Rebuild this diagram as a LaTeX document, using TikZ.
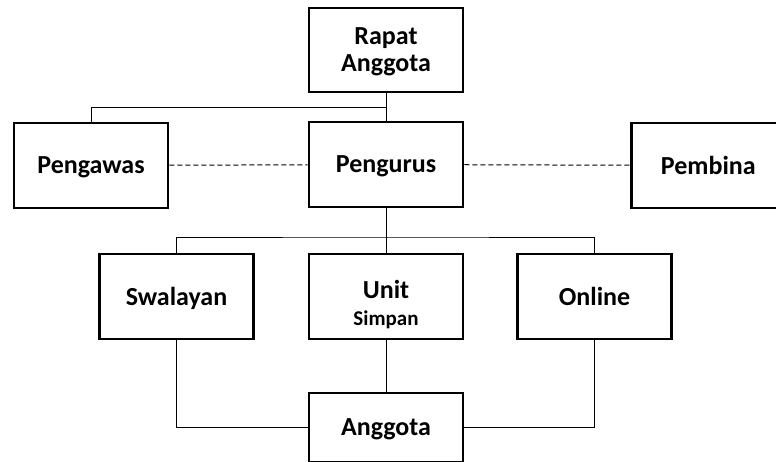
\documentclass[tikz,border=0pt]{standalone}
\usepackage{fontspec}
\setmainfont{Carlito}

\begin{document}
\begin{tikzpicture}[x=1pt, y=-1pt,
    kotak/.style={draw, line width=2.6pt, minimum width=154pt, minimum height=85pt,
                  inner sep=0pt, align=center, text depth=0pt,
                  font=\fontsize{26}{27}\selectfont\bfseries},
    garis/.style={line width=1pt},
    putus/.style={line width=1pt, dash pattern=on 5pt off 3pt}]

    \useasboundingbox (0,0) rectangle (776,461);
    \clip (0,0) rectangle (776,461);

    \node[kotak, minimum height=84pt] (rapat) at (386, 50) {Rapat\\Anggota};

    \node[kotak] (pengawas) at (91 , 165.5) {Pengawas};
    \node[kotak] (pengurus) at (386, 164.5) {Pengurus};
    \node[kotak, minimum width=180pt, anchor=west] (pembina) at (630, 165.5) {Pembina\hspace*{26pt}}; % terpotong di kanan

    \node[kotak] (swalayan) at (176.5, 296.5) {Swalayan};
    \node[kotak] (unit)     at (386  , 296.5) {\rule{0pt}{30pt}Unit\\{\fontsize{21}{22}\selectfont Simpan}};
    \node[kotak] (online)   at (594.5, 296.5) {Online};

    \node[kotak, minimum height=69pt] (anggota) at (386, 427.5) {Anggota};

    \coordinate (atas)   at (386, 107); % cabang ke pengawas
    \coordinate (tengah) at (386, 237); % cabang ke unit-unit

    \draw[garis] (rapat) -- (pengurus);
    \draw[garis] (atas) -| (pengawas.north);
    \draw[garis] (pengurus) -- (unit);
    \draw[garis] (swalayan.north) |- (tengah) -| (online.north);

    \draw[garis] (unit) -- (anggota);
    \draw[garis] (swalayan.south) |- (anggota.west);
    \draw[garis] (online.south) |- (anggota.east);

    \draw[putus] (pengawas) -- (pengurus);
    \draw[putus] (pengurus) -- (pembina);

\end{tikzpicture}
\end{document}
